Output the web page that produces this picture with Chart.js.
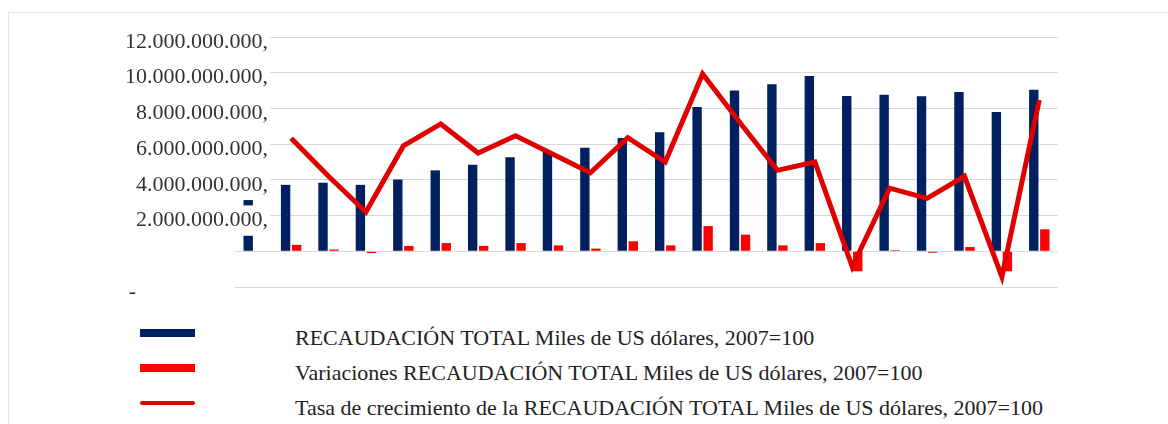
<!DOCTYPE html>
<html>
<head>
<meta charset="utf-8">
<script src="https://cdn.jsdelivr.net/npm/chart.js@4.4.1/dist/chart.umd.min.js"></script>
<style>
  body { margin: 0; background: #fff; width: 1168px; height: 424px; overflow: hidden; position: relative; font-family: "Liberation Serif", serif; }
  #frame { position: absolute; left: 8px; top: 12px; right: 0; bottom: 0; border-top: 1px solid #e4e4e4; border-left: 1px solid #e4e4e4; }
  #chart { position: absolute; left: 0; top: 0; }
  #legend { position: absolute; left: 140px; top: 316px; }
  .item { position: relative; height: 35px; }
  .swatch { position: absolute; left: 0; width: 55px; }
  .label { position: absolute; left: 155px; top: 4px; line-height: 35px; font-size: 22px; color: #222; white-space: nowrap; }
</style>
</head>
<body>
<div id="frame"></div>
<canvas id="chart" width="1168" height="310"></canvas>
<div id="legend"></div>
<script>
// años (no se muestran en el eje)
const years = ['1990', '1991', '1992', '1993', '1994', '1995', '1996', '1997', '1998', '1999', '2000',
  '2001', '2002', '2003', '2004', '2005', '2006', '2007', '2008', '2009', '2010', '2011'];

const seriesNames = [
  'RECAUDACIÓN TOTAL Miles de US dólares, 2007=100',
  'Variaciones RECAUDACIÓN TOTAL Miles de US dólares, 2007=100',
  'Tasa de crecimiento de la RECAUDACIÓN TOTAL Miles de US dólares, 2007=100'
];

const recaudacion = [3.36e9, 3.72e9, 3.84e9, 3.72e9, 4.02e9, 4.53e9, 4.85e9, 5.27e9, 5.61e9, 5.80e9, 6.34e9,
  6.67e9, 8.08e9, 9.01e9, 9.35e9, 9.81e9, 8.69e9, 8.77e9, 8.68e9, 8.92e9, 7.80e9, 9.05e9];

const variaciones = [null, 0.36e9, 0.10e9, -0.10e9, 0.30e9, 0.46e9, 0.30e9, 0.46e9, 0.33e9, 0.15e9, 0.56e9,
  0.33e9, 1.41e9, 0.93e9, 0.33e9, 0.46e9, -1.12e9, 0.06e9, -0.08e9, 0.24e9, -1.12e9, 1.23e9];

// tasa de crecimiento, %
const tasa = [null, 11.0, 4.6, -1.4, 9.7, 13.4, 8.5, 11.4, 8.3, 5.2, 11.1,
  7.0, 21.8, 13.6, 5.6, 7.0, -10.6, 2.6, 0.9, 4.6, -12.3, 17.4];

// etiquetas del eje, de -2.000.000.000 a 12.000.000.000
const tickLabels = ['-', '', '2.000.000.000,', '4.000.000.000,', '6.000.000.000,',
  '8.000.000.000,', '10.000.000.000,', '12.000.000.000,'];

const colors = ['#002060', '#ff0000', '#e00000'];

let ctx = document.getElementById('chart').getContext('2d');
let chart = new Chart(ctx, {
  type: 'bar',
  data: {
    labels: years,
    datasets: [{
      type: 'line',
      label: seriesNames[2],
      data: tasa,
      yAxisID: 'y1',
      borderColor: colors[2],
      borderWidth: 5,
      borderJoinStyle: 'miter',
      pointRadius: 0,
      tension: 0,
      order: 0
    }, {
      label: seriesNames[0],
      data: recaudacion,
      backgroundColor: colors[0],
      yAxisID: 'y',
      order: 1
    }, {
      label: seriesNames[1],
      data: variaciones,
      backgroundColor: colors[1],
      yAxisID: 'y',
      order: 2
    }]
  },
  options: {
    responsive: false,
    animation: false,
    layout: { padding: { left: 235, right: 110, top: 37, bottom: 23 } },
    plugins: { legend: { display: false }, tooltip: { enabled: false } },
    datasets: { bar: { categoryPercentage: 0.59, barPercentage: 0.85 } },
    scales: {
      x: { display: false },
      y: {
        min: -2e9, max: 12e9,
        ticks: { stepSize: 2e9, display: false },
        grid: { color: '#d9d9d9', drawTicks: false },
        border: { display: false }
      },
      // etiquetas encima de las barras, como en el original
      yLabels: {
        position: 'left',
        min: -2e9, max: 12e9,
        grid: { display: false },
        border: { display: false },
        ticks: {
          z: 1,
          stepSize: 2e9,
          mirror: true,
          crossAlign: 'far',
          padding: -110,
          labelOffset: 5,
          color: '#333',
          font: { family: '"Liberation Serif", serif', size: 22 },
          showLabelBackdrop: true,
          backdropPadding: 2,
          backdropColor: c => (c.tick && c.tick.value <= 0) ? 'rgba(255,255,255,0)' : '#ffffff',
          callback: (v, i) => tickLabels[i] === '-' ? '-' + ' '.repeat(24) : tickLabels[i]
        },
        afterFit: s => { s.width = 0; }
      },
      y1: { display: false, min: -14, max: 28 }
    }
  }
});

// leyenda en HTML
let legend = document.getElementById('legend');
[1, 2, 0].forEach(d => {
  let ds = chart.data.datasets[d];
  let item = document.createElement('div');
  item.className = 'item';
  let sw = document.createElement('div');
  sw.className = 'swatch';
  if (ds.type === 'line') {
    sw.style.cssText = 'top:15px;height:4px;border-radius:2px;background:' + ds.borderColor;
  } else {
    sw.style.cssText = 'top:13px;height:8px;background:' + ds.backgroundColor;
  }
  let lb = document.createElement('div');
  lb.className = 'label';
  lb.textContent = ds.label;
  item.appendChild(sw);
  item.appendChild(lb);
  legend.appendChild(item);
});
</script>
</body>
</html>
